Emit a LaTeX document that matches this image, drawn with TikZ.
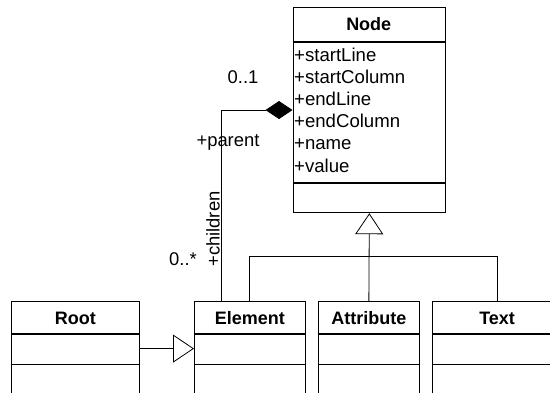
\documentclass[tikz,border=0pt]{standalone}
\usepackage{fontspec}
\setmainfont{Liberation Sans}
\usetikzlibrary{arrows.meta}
\begin{document}
\begin{tikzpicture}[x=1pt,y=-1pt,
  classbox/.style={draw, line width=1.2pt, rectangle, inner sep=0pt, anchor=north west},
  sepline/.style={line width=1.2pt},
  ctitle/.style={font=\fontsize{18}{22}\selectfont\bfseries, inner sep=0pt, anchor=base},
  cattr/.style={font=\fontsize{18.6}{22}\selectfont, inner sep=0pt, anchor=base west},
  lbl/.style={font=\fontsize{18.4}{22}\selectfont, inner sep=0pt},
  conn/.style={line width=0.8pt},
  gen/.style={-{Triangle[open, length=21pt, width=28pt]}},
  comp/.style={{Diamond[length=27pt, width=18pt]}-},
]
\useasboundingbox (0,0) rectangle (550,392);
\begin{scope}
\clip (0,0) rectangle (550,392);
% Node class
\node[classbox, minimum width=152.5pt, minimum height=205pt] (nb) at (292.5,7) {};
\draw[sepline] (292.5,42) -- (445,42);
\draw[sepline] (292.5,183) -- (445,183);
\node[ctitle] (nbt) at (368.75,30.5) {Node};
\node[cattr] (a1) at (294,61) {+startLine};
\node[cattr] (a2) at (294,83.2) {+startColumn};
\node[cattr] (a3) at (294,105.4) {+endLine};
\node[cattr] (a4) at (294,127.6) {+endColumn};
\node[cattr] (a5) at (294,149.8) {+name};
\node[cattr] (a6) at (294,172) {+value};
% bottom classes
\node[classbox, minimum width=128pt, minimum height=94pt] (root) at (10.7,301) {};
\node[classbox, minimum width=110.5pt, minimum height=94pt] (el) at (194,301) {};
\node[classbox, minimum width=101.5pt, minimum height=94pt] (at) at (317.5,301) {};
\node[classbox, minimum width=130pt, minimum height=94pt] (tx) at (431.5,301) {};
\foreach \l/\r in {10.7/138.7, 194/304.5, 317.5/419, 431.5/561.5}{
  \draw[sepline] (\l,334) -- (\r,334);
  \draw[sepline] (\l,364.5) -- (\r,364.5);
}
\node[ctitle] (roott) at (root.north |- 0,324.5) {Root};
\node[ctitle] (elt) at (el.north |- 0,324.5) {Element};
\node[ctitle] (att) at (at.north |- 0,324.5) {Attribute};
\node[ctitle] (txt) at (tx.north |- 0,324.5) {Text};
\end{scope}
% generalization Root -> Element
\draw[conn, gen] (root.east) -- (el.west);
% generalization tree to Node
\coordinate (h) at (0,256);
\draw[conn, gen] (at.north) -- (nb.south);
\draw[conn] (el.north) -- (el.north |- h) -- (tx.north |- h) -- (tx.north);
% composition
\coordinate (c1) at (221.5,110);
\draw[conn, comp] (nb.west |- c1) -- (c1) -- (c1 |- el.north);
% labels
\node[lbl] (m1) at (243,77) {0..1};
\node[lbl] (r1) at (228,142) {+parent};
\node[lbl, rotate=90] (r2) at (213,229) {+children};
\node[lbl] (m2) at (183,259) {0..*};
\end{tikzpicture}
\end{document}
